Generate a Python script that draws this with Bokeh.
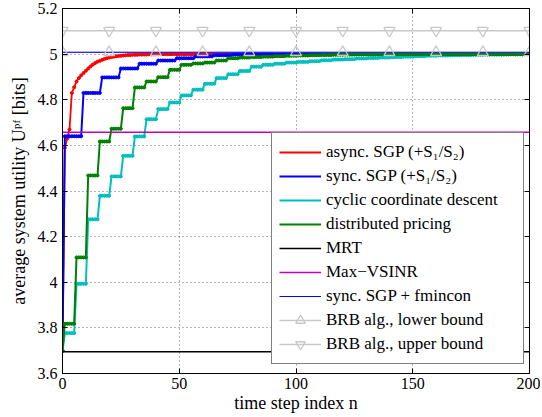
import numpy as np
from bokeh.plotting import figure
from bokeh.models import (Range1d, LinearAxis, FixedTicker, CustomJSTickFormatter,
                          Legend, LegendItem)
from bokeh.embed import file_html
from bokeh.resources import INLINE

# ---------------- data ----------------
n_min, n_max = 0, 200
x_ticks = [0, 50, 100, 150, 200]
y_ticks = [3.6, 3.8, 4.0, 4.2, 4.4, 4.6, 4.8, 5.0, 5.2]

start_value = 3.70  # every iterative method starts here at n = 0

# async. SGP: one value per step n = 0..40, then held
async_sgp = [3.70, 4.59, 4.63, 4.67, 4.83, 4.855, 4.88, 4.895, 4.907, 4.917,
             4.927, 4.937, 4.946, 4.954, 4.961, 4.967, 4.971, 4.975, 4.979, 4.982,
             4.985, 4.987, 4.989, 4.991, 4.992, 4.993, 4.994, 4.995, 4.996, 4.996,
             4.997, 4.997, 4.997, 4.998, 4.998, 4.998, 4.998, 4.999, 4.999, 4.999,
             4.999]
async_sgp_final = 5.0

# sync. SGP: level held for 8 steps each
sync_sgp_block = 8
sync_sgp_levels = [4.64, 4.83, 4.898, 4.937, 4.958, 4.972, 4.982, 4.99, 4.995, 4.998,
                   5.0, 5.0, 5.0, 5.0, 5.0, 5.0, 5.0, 5.0, 5.0, 5.0,
                   5.0, 5.0, 5.0, 5.0, 5.0]

# cyclic coordinate descent: level held for 5 steps each
cyclic_block = 5
cyclic_levels = [3.777, 3.993, 4.276, 4.379, 4.464, 4.554, 4.639, 4.715, 4.759, 4.788,
                 4.819, 4.844, 4.870, 4.895, 4.912, 4.926, 4.945, 4.953, 4.958, 4.963,
                 4.966, 4.969, 4.973, 4.976, 4.978, 4.981, 4.983, 4.985, 4.987, 4.989,
                 4.991, 4.993, 4.994, 4.995, 4.996, 4.997, 4.998, 4.998, 4.999, 5.0]

# distributed pricing: level held for 5 steps each
pricing_block = 5
pricing_levels = [3.818, 4.109, 4.468, 4.617, 4.673, 4.763, 4.854, 4.880, 4.899, 4.931,
                  4.953, 4.959, 4.963, 4.972, 4.982, 4.985, 4.987, 4.989, 4.991, 4.993,
                  4.994, 4.995, 4.996, 4.997, 4.998, 4.999, 4.999, 5.0, 5.0, 5.0,
                  5.0, 5.0, 5.0, 5.0, 5.0, 5.0, 5.0, 5.0, 5.0, 5.0]

mrt_value = 3.695
max_vsinr_value = 4.657
sync_fmincon_value = 5.008
brb_lower_value = 5.008
brb_upper_value = 5.103
brb_marker_n = [0, 20, 40, 60, 80, 100, 120, 140, 160, 180, 200]

labels = ["async. SGP (+S\u2081/S\u2082)", "sync. SGP (+S\u2081/S\u2082)",
          "cyclic coordinate descent", "distributed pricing", "MRT", "Max\u2212VSINR",
          "sync. SGP + fmincon", "BRB alg., lower bound", "BRB alg., upper bound"]

# ---------------- series building ----------------
n = list(range(n_min, n_max + 1))
y_async = async_sgp + [async_sgp_final] * (len(n) - len(async_sgp))
y_sync = [start_value] + list(np.repeat(sync_sgp_levels, sync_sgp_block))
y_cyclic = [start_value] + list(np.repeat(cyclic_levels, cyclic_block))
y_pricing = [start_value] + list(np.repeat(pricing_levels, pricing_block))

FONT = "Liberation Serif"

p = figure(width=540, height=416, output_backend="svg", toolbar_location=None,
           x_range=Range1d(n_min, n_max), y_range=Range1d(y_ticks[0], y_ticks[-1]),
           min_border_left=62, min_border_right=11, min_border_top=8, min_border_bottom=43)
p.background_fill_color = "white"
p.border_fill_color = "white"
p.outline_line_color = "black"
p.outline_line_width = 1

xt = FixedTicker(ticks=x_ticks)
yt = FixedTicker(ticks=y_ticks)
p.xaxis.ticker = xt
p.yaxis.ticker = yt
p.yaxis.formatter = CustomJSTickFormatter(code="return Number(tick.toFixed(1)).toString();")
p.xaxis.axis_label = "time step index n"
p.yaxis.axis_label = "average system utility U\u1d56\u1da0 [bits]"

for ax in (p.xaxis[0], p.yaxis[0]):
    ax.axis_line_color = "black"
    ax.major_tick_in = 5
    ax.major_tick_out = 0
    ax.minor_tick_in = 0
    ax.minor_tick_out = 0
    ax.major_label_text_font = FONT
    ax.major_label_text_font_size = "16px"
    ax.major_label_text_color = "black"
    ax.axis_label_text_font = FONT
    ax.axis_label_text_font_size = "18px"
    ax.axis_label_text_font_style = "normal"
    ax.axis_label_text_color = "black"
    ax.major_label_standoff = 5
p.xaxis.major_label_standoff = 4
p.xaxis.axis_label_standoff = 1
p.yaxis.axis_label_standoff = 6

for loc, tk in (("above", xt), ("right", yt)):
    ax = LinearAxis(ticker=tk, formatter=CustomJSTickFormatter(code="return '';"),
                    major_tick_in=5, major_tick_out=0, minor_tick_in=0, minor_tick_out=0,
                    major_label_standoff=0, major_label_text_font_size="0px",
                    axis_line_color="black")
    p.add_layout(ax, loc)

for g, tk in ((p.xgrid, xt), (p.ygrid, yt)):
    g.ticker = tk
    g.grid_line_color = "black"
    g.grid_line_alpha = 0.6
    g.grid_line_dash = "1 3"
    g.grid_line_width = 1

RED, BLUE, CYAN, GREEN = "#ff0000", "#0000ff", "#00bfbf", "#008000"
MAG, GRAY = "#bf00bf", "#c8c8c8"

r1l = p.line(n, y_async, line_color=RED, line_width=1.8)
r1d = p.scatter(n, y_async, marker="circle", size=3, color=RED)
r2l = p.line(n, y_sync, line_color=BLUE, line_width=2)
r2d = p.scatter(n, y_sync, marker="circle", size=3, color=BLUE)
r3l = p.line(n, y_cyclic, line_color=CYAN, line_width=2)
r3d = p.scatter(n, y_cyclic, marker="circle", size=3, color=CYAN)
r4l = p.line(n, y_pricing, line_color=GREEN, line_width=2)
r4d = p.scatter(n, y_pricing, marker="circle", size=3, color=GREEN)

r5 = p.line([n_min, n_max], [mrt_value, mrt_value], line_color="black", line_width=1.5)
r6 = p.line([n_min, n_max], [max_vsinr_value, max_vsinr_value], line_color=MAG, line_width=1.5)
r8l = p.line([n_min, n_max], [brb_lower_value, brb_lower_value], line_color=GRAY, line_width=1.5)
r7 = p.line([n_min, n_max], [sync_fmincon_value, sync_fmincon_value], line_color=BLUE, line_width=1)
r8m = p.scatter(brb_marker_n, [brb_lower_value] * len(brb_marker_n), marker="triangle",
                size=11, line_color=GRAY, fill_color=None, line_width=1.3)
r9l = p.line([n_min, n_max], [brb_upper_value, brb_upper_value], line_color=GRAY, line_width=1.5)
r9m = p.scatter(brb_marker_n, [brb_upper_value] * len(brb_marker_n), marker="inverted_triangle",
                size=11, line_color=GRAY, fill_color=None, line_width=1.3)

renderer_groups = [[r1l], [r2l], [r3l], [r4l], [r5], [r6], [r7],
                   [r8l, r8m], [r9l, r9m]]
legend = Legend(items=[LegendItem(label=lab, renderers=rs) for lab, rs in zip(labels, renderer_groups)],
                location=(209, 9))
legend.label_text_font = FONT
legend.label_text_font_size = "17px"
legend.label_text_color = "black"
legend.glyph_width = 42
legend.glyph_height = 24
legend.label_height = 24
legend.label_width = 190
legend.label_standoff = 5
legend.spacing = 0
legend.padding = 7
legend.margin = 0
legend.border_line_color = "black"
legend.border_line_width = 1
legend.background_fill_color = "white"
legend.background_fill_alpha = 1
p.add_layout(legend)

open("out.html", "w").write(file_html(p, INLINE))
